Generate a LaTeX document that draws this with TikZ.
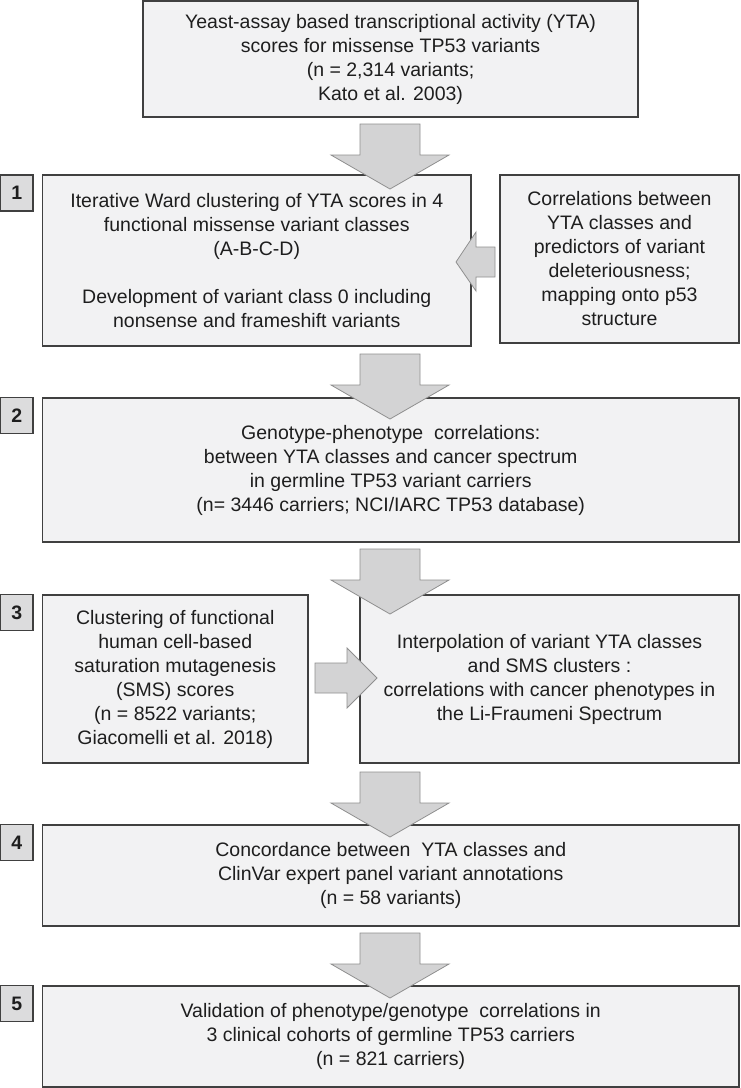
\documentclass[tikz,border=0pt]{standalone}
\usepackage{fontspec}
\setmainfont{Liberation Sans}
\definecolor{boxfill}{HTML}{F2F2F3}
\definecolor{boxline}{HTML}{404040}
\definecolor{arrfill}{HTML}{D3D3D4}
\definecolor{arrline}{HTML}{8F8F8F}
\definecolor{labfill}{HTML}{DCDCDD}
\definecolor{txt}{HTML}{1E1E1E}
\tikzset{
  box/.style={draw=boxline, fill=boxfill, line width=1.4pt, inner sep=0pt, align=center,
    text=txt, font=\fontsize{19.5}{24}\selectfont},
  lab/.style={draw=boxline, fill=labfill, line width=1.4pt, inner sep=0pt,
    minimum width=32.5pt, minimum height=36pt, text=txt,
    font=\bfseries\fontsize{19.5}{24}\selectfont},
  arr/.style={draw=arrline, fill=arrfill, line width=0.8pt, line join=miter},
  darr/.pic={\filldraw[arr] (-30,0) -- (30,0) -- (30,31) -- (59,31) -- (0,65) -- (-59,31) -- (-30,31) -- cycle;}
}
\begin{document}
\begin{tikzpicture}[x=1pt,y=-1pt]
\useasboundingbox (0,0) rectangle (740,1088);
% boxes
\node[box, minimum width=495pt, minimum height=116pt] (top) at (390.5,59)
  {Yeast-assay based transcriptional activity (YTA)\\scores for missense TP53 variants\\(n = 2,314 variants;\\Kato et al. 2003)};
\node[box, minimum width=428.5pt, minimum height=171pt] (b1) at (256.75,260.5)
  {Iterative Ward clustering of YTA scores in 4\\functional missense variant classes\\(A-B-C-D)\\[24pt]Development of variant class 0 including\\nonsense and frameshift variants};
\node[box, minimum width=239pt, minimum height=168pt] (r1) at (619.5,259)
  {Correlations between\\YTA classes and\\predictors of variant\\deleteriousness;\\mapping onto p53\\structure};
\node[box, minimum width=696.5pt, minimum height=144pt] (b2) at (390.75,470)
  {Genotype-phenotype\ \ correlations:\\between YTA classes and cancer spectrum\\in germline TP53 variant carriers\\(n= 3446 carriers; NCI/IARC TP53 database)};
\node[box, minimum width=265.5pt, minimum height=168pt] (b3l) at (175.25,679)
  {Clustering of functional\\human cell-based\\saturation mutagenesis\\(SMS) scores\\(n = 8522 variants;\\Giacomelli et al. 2018)};
\node[box, minimum width=379pt, minimum height=168pt] (b3r) at (549.5,679)
  {Interpolation of variant YTA classes\\and SMS clusters :\\correlations with cancer phenotypes in\\the Li-Fraumeni Spectrum};
\node[box, minimum width=696.5pt, minimum height=101pt] (b4) at (390.75,875.5)
  {Concordance between\ \ YTA classes and\\ClinVar expert panel variant annotations\\(n = 58 variants)};
\node[box, minimum width=696.5pt, minimum height=101pt] (b5) at (390.75,1036.5)
  {Validation of phenotype/genotype\ \ correlations in\\3 clinical cohorts of germline TP53 carriers\\(n = 821 carriers)};
% labels
\node[lab] (l1) at (16.75,193) {1};
\node[lab] (l2) at (16.75,415.5) {2};
\node[lab] (l3) at (16.75,612.5) {3};
\node[lab] (l4) at (16.75,842.5) {4};
\node[lab] (l5) at (16.75,1003.5) {5};
% block arrows
\pic at (390,124) {darr};
\pic at (390,354) {darr};
\pic at (390,549) {darr};
\pic at (390,772) {darr};
\pic at (390,933) {darr};
\filldraw[arr] (495,247) -- (495,277) -- (476,277) -- (476,291) -- (456,262) -- (476,232) -- (476,247) -- cycle;
\filldraw[arr] (315,663) -- (347,663) -- (347,648) -- (377,678) -- (347,708) -- (347,693) -- (315,693) -- cycle;
\end{tikzpicture}
\end{document}
